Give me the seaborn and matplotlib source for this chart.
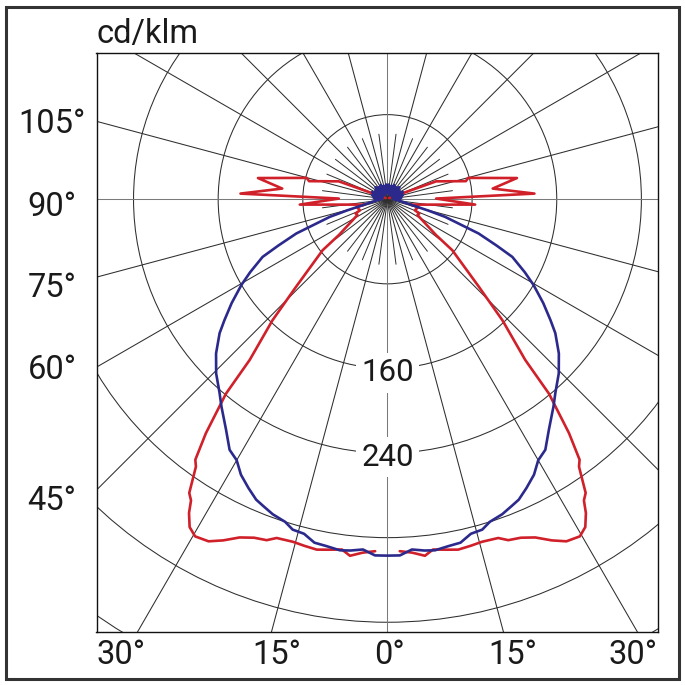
import numpy as np
import pandas as pd
import matplotlib
matplotlib.use("Agg")
import matplotlib.pyplot as plt
import seaborn as sns
from matplotlib.patches import Circle, Rectangle

# luminous intensity, cd/klm, by gamma angle (deg from nadir); planes are symmetric
# C0-C180 plane (blue)
blue_gamma = [0, 2, 4, 6, 7.7, 10, 12, 14, 16, 17.6, 20, 22, 23.6, 25.7, 28, 30, 32.2,
              35, 38.7, 41, 44.5, 48, 51.4, 53.4, 56.3, 59.6, 62, 65.2, 67, 69.4, 73,
              74.5, 76.5, 80, 85, 90, 95, 100, 105, 110, 115, 120, 125, 130, 135, 140,
              145, 150, 155, 160, 165, 170, 175, 180]
blue_cd = [337, 337, 332, 334, 335, 333, 332, 326, 325, 320, 317, 313, 310, 303, 295, 285, 280,
           266, 251, 242, 231, 218, 203, 192, 177, 160, 147, 130, 112, 92, 57,
           40, 24, 15, 9, 6, 13, 5, 15, 6, 16, 5, 14, 7, 16, 5,
           14, 6, 15, 5, 13, 7, 14, 6]

# C90-C270 plane (red)
red_gamma = [2, 4, 6, 7.4, 9.5, 11.4, 13.5, 15.4, 18.1, 19.5, 21.5, 23.6, 25.7, 27.6, 29.7,
             31.1, 32.3, 33.1, 34, 35.6, 36.4, 37.8, 39.7, 40.6, 43.5, 46.2, 51.8, 53.6,
             62.3, 66, 68, 75.8, 76.6, 86.5, 90.8, 92.2, 95.8, 99.3, 104.8, 103, 110.2, 125]
red_cd = [333, 335, 339, 334, 336, 338, 337, 336, 337, 342, 344, 349, 358, 365, 367,
          362, 351, 340, 335, 311, 306, 280, 239, 200, 158, 120, 78, 57,
          32, 33, 28, 30, 22, 83, 46, 139, 100, 124, 79, 76, 49, 2]

rings = [80, 160, 240, 320, 400, 480]
ring_labels = [160, 240]
side_labels = ["105°", "90°", "75°", "60°", "45°"]
bottom_labels = ["30°", "15°", "0°", "15°", "30°"]

W = 685


def fx(px):
    return px / W


def fy(py):
    return 1 - py / W


def polar_xy(gamma, cd, side):
    g = np.radians(np.asarray(gamma, dtype=float))
    r = np.asarray(cd, dtype=float)
    return side * r * np.sin(g), -r * np.cos(g)


rows = []
bx_l, by_l = polar_xy(blue_gamma[::-1], blue_cd[::-1], -1)
bx_r, by_r = polar_xy(blue_gamma[1:], blue_cd[1:], 1)
for x, y in zip(np.r_[bx_l, bx_r], np.r_[by_l, by_r]):
    rows.append(("C0-C180", "b", x, y))
for side, tag in [(-1, "rl"), (1, "rr")]:
    rx, ry = polar_xy(red_gamma, red_cd, side)
    for x, y in zip(rx, ry):
        rows.append(("C90-C270", tag, x, y))
df = pd.DataFrame(rows, columns=["plane", "seg", "x", "y"])

sns.set_style("white")
plt.rcParams["font.family"] = ["Roboto", "DejaVu Sans"]

fig = plt.figure(figsize=(6.85, 6.85), dpi=100)
ax = fig.add_axes([fx(96.5), fy(632.3), (658 - 96.5) / W, (632.3 - 53.3) / W])

# grid: rings and radial lines
grid_c = "#2e2e2e"
for r in rings:
    ax.add_patch(Circle((0, 0), r, fill=False, ec=grid_c, lw=0.75, zorder=1))
R = 700
for a in range(0, 360, 15):
    t = np.radians(a)
    c = "#7a7a7a" if a % 90 == 0 else grid_c
    ax.plot([0, R * np.sin(t)], [0, -R * np.cos(t)], color=c, lw=0.75, zorder=1)
for a in np.arange(7.5, 360, 15):
    t = np.radians(a)
    ax.plot([0, 62 * np.sin(t)], [0, -62 * np.cos(t)], color=grid_c, lw=0.7, zorder=1)

sns.lineplot(data=df, x="x", y="y", hue="plane", units="seg", estimator=None, sort=False,
             palette={"C0-C180": "#2b2a8c", "C90-C270": "#d0202a"},
             hue_order=["C90-C270", "C0-C180"], linewidth=1.9, legend=False, ax=ax, zorder=3)

for v in ring_labels:
    ax.text(0, -v - 4, str(v), ha="center", va="center", fontsize=22.5,
            color="#1a1a1a", zorder=4,
            bbox=dict(fc="white", ec="none", pad=4))

ax.set_xlim(-275.0, 255.7)
ax.set_ylim(-409.5, 138.0)
ax.set_xticks([])
ax.set_yticks([])
ax.set_xlabel("")
ax.set_ylabel("")
for s in ax.spines.values():
    s.set_color("#111111")
    s.set_linewidth(1.0)

# degree labels
for lab, py in zip(side_labels, [124, 207, 288, 370, 501]):
    fig.text(fx(52), fy(py), lab, ha="center", va="center", fontsize=23.5,
             color="#1a1a1a")
for lab, px in zip(bottom_labels, [121, 277, 389, 513, 633]):
    fig.text(fx(px), fy(655), lab, ha="center", va="center", fontsize=23.5,
             color="#1a1a1a")

fig.text(fx(96.7), fy(43.3), "cd/klm", ha="left", va="baseline", fontsize=23.5,
         color="#1a1a1a")

fig.add_artist(Rectangle((fx(5.5), fy(678.5)), 673 / W, 671.5 / W, transform=fig.transFigure,
                         fill=False, ec="#333333", lw=2.2))

fig.savefig("out.png", dpi=100)
